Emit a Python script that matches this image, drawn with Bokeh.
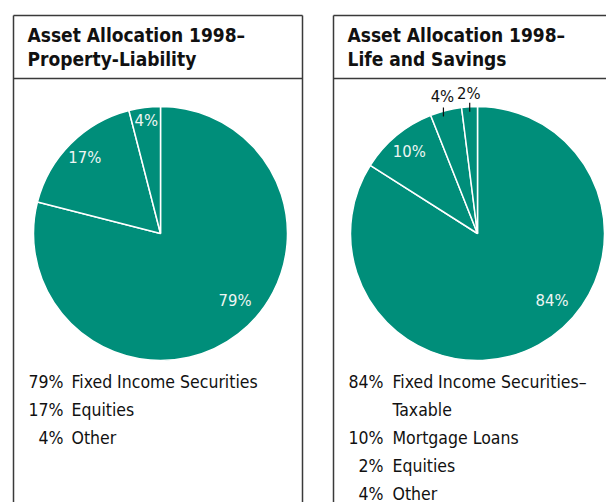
import math
from bokeh.plotting import figure
from bokeh.models import Range1d
from bokeh.core.properties import value
from bokeh.embed import file_html
from bokeh.resources import INLINE

# ---------------- data ----------------
titles = ["Asset Allocation 1998–\nProperty-Liability",
          "Asset Allocation 1998–\nLife and Savings"]

pl_categories = ["Fixed Income Securities", "Equities", "Other"]
pl_values = [79, 17, 4]
pl_pie_order = [0, 1, 2]

ls_categories = ["Fixed Income Securities–\nTaxable", "Mortgage Loans", "Equities", "Other"]
ls_values = [84, 10, 2, 4]
ls_pie_order = [0, 1, 3, 2]

# ---------------- style / layout ----------------
TEAL = "#008e7a"
BORDER = "#3a3a3a"
FONT = "DejaVu Sans Condensed"
W, H = 606, 502

p = figure(width=W, height=H, x_range=Range1d(0, W), y_range=Range1d(0, H),
           output_backend="svg", toolbar_location=None, min_border=0)
p.axis.visible = False
p.grid.visible = False
p.outline_line_color = None
p.background_fill_color = "white"


def Y(ys):
    return H - ys


panels = [
    dict(x0=13, x1=302, cx=160, title=titles[0], cats=pl_categories, vals=pl_values,
         order=pl_pie_order, pct_x=63, name_x=71,
         lab_r=[100, 107, 114], lab_ang=[131.8, None, None], outside=[False, False, False]),
    dict(x0=333, x1=660, cx=477, title=titles[1], cats=ls_categories, vals=ls_values,
         order=ls_pie_order, pct_x=383, name_x=392,
         lab_r=[100, 107, 141, 140], lab_ang=[131.8, None, None, None],
         outside=[False, False, True, True]),
]

TOP, DIV, CY, R = 15, 78, 233, 127

for pn in panels:
    # panel borders
    p.multi_line(xs=[[pn["x0"], pn["x0"]], [pn["x0"], pn["x1"]], [pn["x1"], pn["x1"]], [pn["x0"], pn["x1"]]],
                 ys=[[Y(TOP), Y(520)], [Y(TOP), Y(TOP)], [Y(TOP), Y(520)], [Y(DIV), Y(DIV)]],
                 line_color=BORDER, line_width=1.5)
    # title
    for i, line in enumerate(pn["title"].split("\n")):
        p.text(x=[pn["x0"] + 14], y=[Y(34 + 24 * i)], text=[line],
               text_font=value(FONT), text_font_size="19px", text_font_style="bold",
               text_color="#111111", text_baseline="alphabetic", text_align="left")
    # pie
    vals = [pn["vals"][k] for k in pn["order"]]
    total = float(sum(vals))
    cum = 0.0
    starts, ends, mids = [], [], []
    for v in vals:
        c0, c1 = cum / total, (cum + v) / total
        starts.append(math.pi / 2 - 2 * math.pi * c0)
        ends.append(math.pi / 2 - 2 * math.pi * c1)
        mids.append(360 * (c0 + c1) / 2)
        cum += v
    p.wedge(x=[pn["cx"]] * len(vals), y=[Y(CY)] * len(vals), radius=R,
            start_angle=starts, end_angle=ends, direction="clock",
            fill_color=TEAL, line_color="white", line_width=1.5)
    # labels
    for j, v in enumerate(vals):
        ang = pn["lab_ang"][j] if pn["lab_ang"][j] is not None else mids[j]
        r = pn["lab_r"][j]
        lx = pn["cx"] + r * math.sin(math.radians(ang))
        ly = CY - r * math.cos(math.radians(ang))
        out = pn["outside"][j]
        p.text(x=[lx], y=[Y(ly)], text=[f"{v}%"], text_font=value(FONT),
               text_font_size="16.5px", text_color="#111111" if out else "#eef5f3",
               text_align="center", text_baseline="middle")
        if out:
            dx = lx - pn["cx"]
            edge = CY - math.sqrt(R * R - dx * dx)
            p.segment(x0=[lx + 1], y0=[Y(edge - 4)], x1=[lx + 1], y1=[Y(edge + 5)],
                      line_color="#111111", line_width=1.2)
    # legend
    row = 0
    for cat, v in zip(pn["cats"], pn["vals"]):
        base = 381 + 28 * row
        p.text(x=[pn["pct_x"]], y=[Y(base)], text=[f"{v}%"], text_font=value(FONT),
               text_font_size="17.5px", text_color="#111111", text_align="right",
               text_baseline="alphabetic")
        for line in cat.split("\n"):
            base = 381 + 28 * row
            p.text(x=[pn["name_x"]], y=[Y(base)], text=[line], text_font=value(FONT),
                   text_font_size="17.5px", text_color="#111111", text_align="left",
                   text_baseline="alphabetic")
            row += 1

open("out.html", "w").write(file_html(p, INLINE))
